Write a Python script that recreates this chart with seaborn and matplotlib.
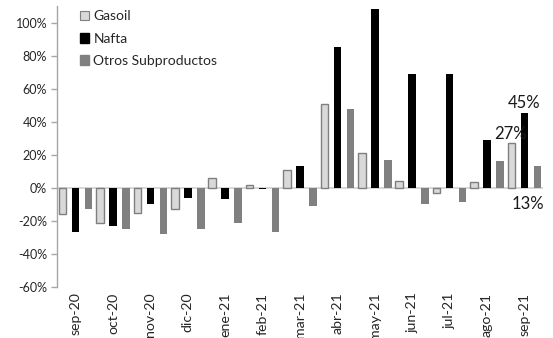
import matplotlib
matplotlib.use("Agg")
import matplotlib.pyplot as plt
from matplotlib.patches import Patch
from matplotlib.ticker import FuncFormatter
import seaborn as sns
import pandas as pd

meses = ["sep-20", "oct-20", "nov-20", "dic-20", "ene-21", "feb-21", "mar-21",
         "abr-21", "may-21", "jun-21", "jul-21", "ago-21", "sep-21"]
gasoil = [-16, -21, -15, -13, 6, 1.5, 10.5, 51, 21, 4, -3, 3.5, 27]
nafta = [-27, -23, -10, -6, -7, -1, 13, 85, 108, 69, 69, 29, 45]
otros = [-13, -25, -28, -25, -21, -27, -11, 48, 17, -10, -8.5, 16.5, 13]
series = ["Gasoil", "Nafta", "Otros Subproductos"]
colores = {"Gasoil": "#d9d9d9", "Nafta": "#000000", "Otros Subproductos": "#808080"}

df = pd.DataFrame({
    "mes": meses * 3,
    "serie": [s for s in series for _ in meses],
    "valor": gasoil + nafta + otros,
})

sns.set_theme(style="white")
plt.rcParams["font.family"] = ["Lato", "DejaVu Sans"]

fig = plt.figure(figsize=(5.53, 3.38), dpi=100)
ax = fig.add_axes([0.103, 0.151, 0.879, 0.831])

sns.barplot(data=df, x="mes", y="valor", hue="serie", hue_order=series,
            order=meses, palette=colores, width=1.04, gap=0.42,
            saturation=1, linewidth=0, ax=ax, legend=False)

# light bars get a gray outline
for bar in ax.containers[0]:
    bar.set_edgecolor("#7f7f7f")
    bar.set_linewidth(1.0)

ax.set_ylim(-60, 110)
ax.set_xlim(-0.5, 12.5)
ax.set_yticks(range(-60, 101, 20))
ax.yaxis.set_major_formatter(FuncFormatter(lambda v, p: f"{int(v)}%"))
ax.set_xlabel("")
ax.set_ylabel("")

for s in ["top", "right", "bottom"]:
    ax.spines[s].set_visible(False)
ax.spines["left"].set_color("#a6a6a6")
ax.spines["left"].set_linewidth(1.0)
ax.axhline(0, color="#d0d0d0", lw=1.2, zorder=0.5)

ax.tick_params(axis="y", left=True, length=4, width=1, color="#a6a6a6",
               labelsize=9, labelcolor="#262626", pad=3)
ax.tick_params(axis="x", bottom=False, length=0, labelsize=10.2,
               labelcolor="#262626", pad=4, labelrotation=90)

# value labels for the last month
ult = len(meses) - 1
ax.annotate(f"{gasoil[ult]:.0f}%", (ult - 0.38, gasoil[ult]), xytext=(0, 1),
            textcoords="offset points", ha="center", va="bottom", fontsize=12,
            color="#1a1a1a")
ax.annotate(f"{nafta[ult]:.0f}%", (ult, nafta[ult]), xytext=(0, 2),
            textcoords="offset points", ha="center", va="bottom", fontsize=12,
            color="#1a1a1a")
ax.annotate(f"{otros[ult]:.0f}%", (ult + 0.1, 0), xytext=(0, -6),
            textcoords="offset points", ha="center", va="top", fontsize=12,
            color="#1a1a1a")

handles = [Patch(facecolor=colores["Gasoil"], edgecolor="#7f7f7f", lw=0.8),
           Patch(facecolor=colores["Nafta"], edgecolor=colores["Nafta"]),
           Patch(facecolor=colores["Otros Subproductos"], edgecolor=colores["Otros Subproductos"])]
ax.legend(handles, series, loc="upper left", bbox_to_anchor=(0.035, 1.005),
          frameon=False, fontsize=10, handlelength=0.7, handleheight=0.7,
          handletextpad=0.3, labelspacing=0.75, borderaxespad=0)

fig.savefig("out.png", dpi=100)
